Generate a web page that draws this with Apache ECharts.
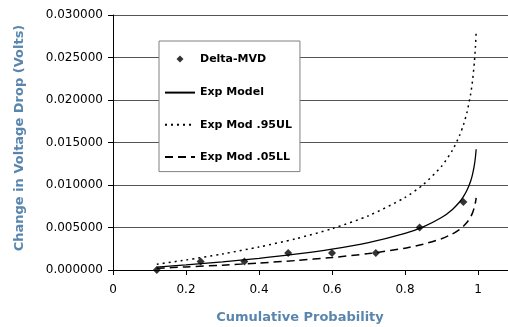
<!DOCTYPE html>
<html><head><meta charset="utf-8">
<script src="https://cdn.jsdelivr.net/npm/echarts@6/dist/echarts.min.js"></script>
<style>html,body{margin:0;padding:0;background:#fff}#c{width:508px;height:327px}</style>
</head><body><div id="c"></div>
<script>
// Observed data points (Delta-MVD)
var obsP = [0.12, 0.24, 0.36, 0.48, 0.60, 0.72, 0.84, 0.96];
var obsY = [0.000, 0.001, 0.001, 0.002, 0.002, 0.002, 0.005, 0.008];
// Curve probabilities
var curveP = [0.12, 0.2, 0.3, 0.4, 0.5, 0.6, 0.7, 0.8, 0.85, 0.9, 0.93, 0.95, 0.96, 0.97, 0.98, 0.985, 0.99, 0.993, 0.995];
var modelY = [0.00034, 0.00060, 0.00096, 0.00137, 0.00186, 0.00246, 0.00323, 0.00431, 0.00508, 0.00617, 0.00713, 0.00803, 0.00863, 0.00940, 0.01048, 0.01126, 0.01234, 0.01330, 0.01420];
var ulY = [0.00068, 0.00118, 0.00189, 0.00271, 0.00367, 0.00486, 0.00638, 0.00853, 0.01005, 0.01220, 0.01409, 0.01588, 0.01706, 0.01859, 0.02073, 0.02226, 0.02441, 0.02630, 0.02808];
var llY = [0.00020, 0.00036, 0.00057, 0.00082, 0.00111, 0.00147, 0.00193, 0.00257, 0.00304, 0.00368, 0.00425, 0.00479, 0.00515, 0.00561, 0.00626, 0.00672, 0.00737, 0.00794, 0.00848];
var seriesNames = ['Delta-MVD', 'Exp Model', 'Exp Mod .95UL', 'Exp Mod .05LL'];
var xTitle = 'Cumulative Probability';
var yTitle = 'Change in Voltage Drop (Volts)';

function pairs(xs, ys){ return xs.map(function(x,i){ return [x, ys[i]]; }); }
var F = 'DejaVu Sans';
var titleColor = '#5a86ae';
var diamondIcon = 'path://M0,0L0.01,0L0,0.01ZM30,14L29.99,14L30,13.99ZM15,3.5L18.5,7L15,10.5L11.5,7Z';
var chart = echarts.init(document.getElementById('c'), null, {renderer:'canvas'});
chart.setOption({
  animation: false,
  backgroundColor: '#fff',
  color: ['#000', '#000', '#000', '#000'],
  grid: {left: 113, top: 15, width: 438, height: 255, containLabel: false, outerBoundsMode: 'none'},
  xAxis: {
    type: 'value', min: 0, max: 1.2, interval: 0.2,
    axisLine: {show: true, onZero: false, lineStyle: {color: '#000', width: 1}},
    axisTick: {show: true, length: 5, lineStyle: {color: '#000'}},
    axisLabel: {color: '#000', fontFamily: F, fontSize: 12, margin: 14},
    splitLine: {show: false}
  },
  yAxis: {
    type: 'value', min: 0, max: 0.03, interval: 0.005,
    axisLine: {show: true, lineStyle: {color: '#000', width: 1}},
    axisTick: {show: true, length: 5, lineStyle: {color: '#000'}},
    axisLabel: {color: '#000', fontFamily: F, fontSize: 12, margin: 10,
      formatter: function(v){ return v.toFixed(6); }},
    splitLine: {show: true, lineStyle: {color: '#555', width: 1}}
  },
  legend: {
    orient: 'vertical', left: 159, top: 41,
    backgroundColor: '#fff', borderColor: '#808080', borderWidth: 1,
    padding: [11, 8, 9, 5], itemGap: 21, itemWidth: 30, itemHeight: 14,
    textStyle: {fontFamily: F, fontSize: 11, fontWeight: 'bold', color: '#000'},
    data: [
      {name: seriesNames[0], icon: diamondIcon},
      {name: seriesNames[1], itemStyle: {opacity: 0}},
      {name: seriesNames[2], itemStyle: {opacity: 0}},
      {name: seriesNames[3], itemStyle: {opacity: 0}}
    ]
  },
  graphic: [
    {type: 'text', x: 300, y: 318, style: {text: xTitle, fill: titleColor, font: 'bold 13px "DejaVu Sans"', textAlign: 'center', textVerticalAlign: 'middle'}},
    {type: 'text', x: 20, y: 138, rotation: Math.PI/2, style: {text: yTitle, fill: titleColor, font: 'bold 13px "DejaVu Sans"', textAlign: 'center', textVerticalAlign: 'middle'}}
  ],
  series: [
    {name: seriesNames[0], type: 'scatter', symbol: 'diamond', symbolSize: 8,
      itemStyle: {color: '#000'}, data: pairs(obsP, obsY), z: 5},
    {name: seriesNames[1], type: 'line', symbol: 'none', smooth: 0.25,
      itemStyle: {color: '#000'},
      lineStyle: {color: '#000', width: 1.3, type: 'solid'}, data: pairs(curveP, modelY)},
    {name: seriesNames[2], type: 'line', symbol: 'none', smooth: 0.25,
      itemStyle: {color: '#000'},
      lineStyle: {color: '#000', width: 1.5, type: [2, 4]}, data: pairs(curveP, ulY)},
    {name: seriesNames[3], type: 'line', symbol: 'none', smooth: 0.25,
      itemStyle: {color: '#000'},
      lineStyle: {color: '#000', width: 1.5, type: [8, 5]}, data: pairs(curveP, llY)}
  ]
});
</script></body></html>
